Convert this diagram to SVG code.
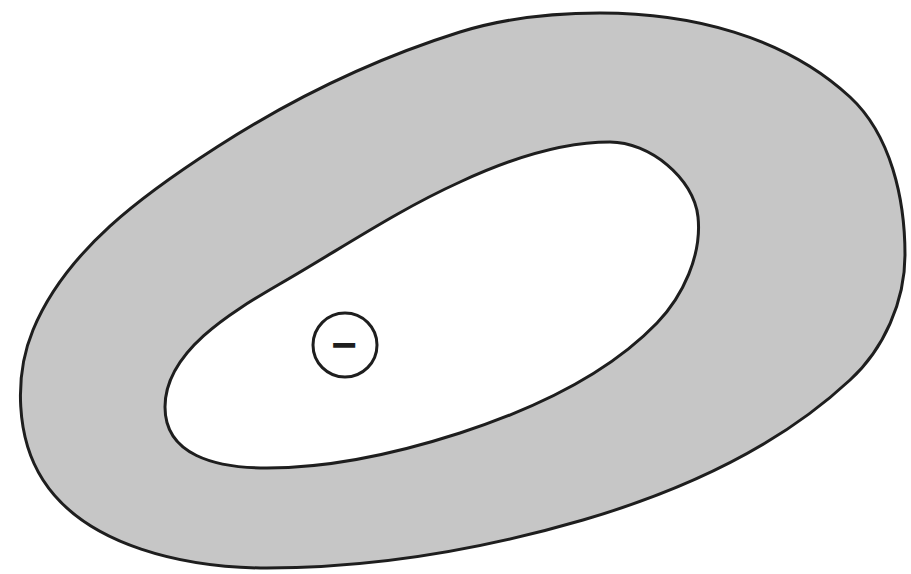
<svg xmlns="http://www.w3.org/2000/svg" width="911" height="574" viewBox="0 0 911 574">
<style>
.ol{stroke:#1e1e1e;stroke-width:3;stroke-linejoin:round}
.t{font-family:"Liberation Sans",Arial,sans-serif;font-weight:bold;font-size:44px;fill:#1e1e1e}
</style>
<rect width="911" height="574" fill="#ffffff"/>
<g id="outer">
<path class="ol" fill="#c6c6c6" d="M 600 13 C 690 13, 784 36, 850 97 C 891 135, 905 199, 905 255 C 905 301, 884 349, 850 380 C 777 448, 679 492, 583 520 C 480 550, 374 568, 267 568 C 187 568, 86 547, 43 480 C 16 438, 14 376, 33 330 C 66 250, 144 194, 217 147 C 293 98, 374 59, 460 32 C 505 18, 553 13, 600 13 Z"/>
</g>
<g id="inner">
<path class="ol" fill="#ffffff" d="M 610 142 C 649 142, 694 178, 698 217 C 702 255, 683 296, 657 323 C 605 377, 531 410, 460 433 C 398 453, 332 468, 267 468 C 215 468, 165 455, 165 407 C 165 352, 230 313, 278 285 C 339 250, 396 211, 460 182 C 505 161, 560 142, 610 142 Z"/>
</g>
<g id="charge">
<circle class="ol" fill="#ffffff" cx="345" cy="345" r="32"/>
<text class="t" x="344" y="360" text-anchor="middle">−</text>
</g>
</svg>
